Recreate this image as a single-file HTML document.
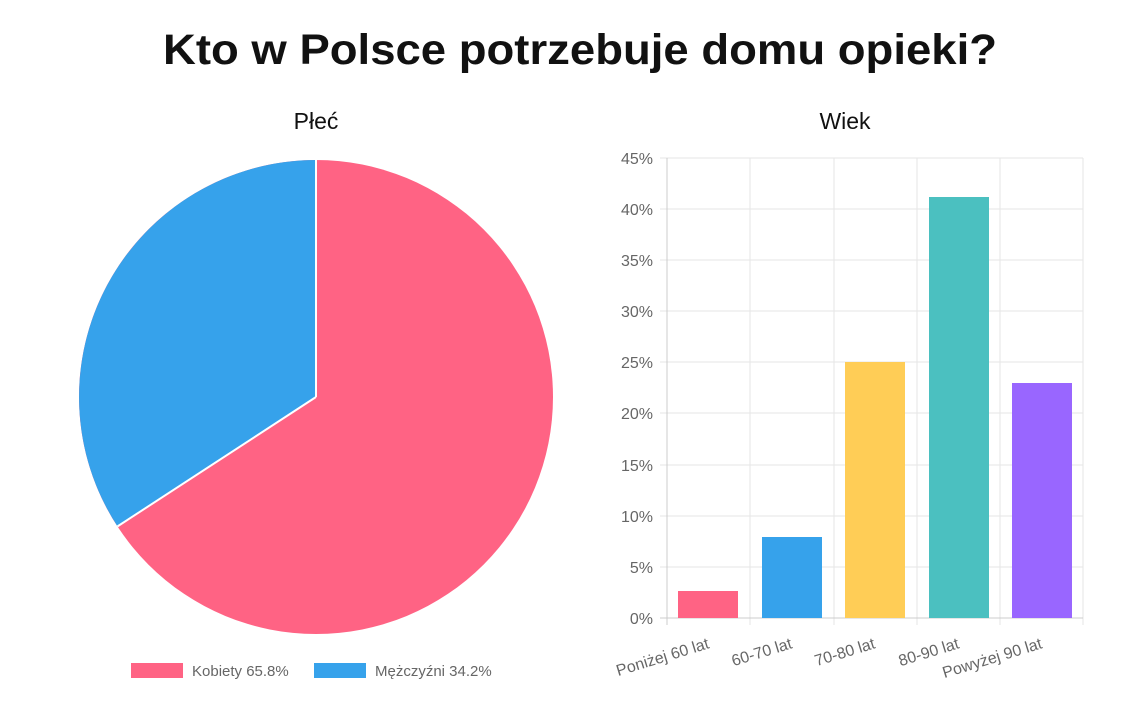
<!DOCTYPE html>
<html><head><meta charset="utf-8"><style>
body{margin:0;background:#fff;width:1131px;height:716px;overflow:hidden}
</style></head><body>
<svg width="1131" height="716" xmlns="http://www.w3.org/2000/svg" font-family="Liberation Sans, sans-serif">
<text x="580" y="64" text-anchor="middle" font-size="43" font-weight="bold" fill="#111" textLength="834" lengthAdjust="spacingAndGlyphs">Kto w Polsce potrzebuje domu opieki?</text>
<text x="316" y="129" text-anchor="middle" font-size="23" fill="#111">Płeć</text>
<text x="845" y="129" text-anchor="middle" font-size="23" fill="#111">Wiek</text>
<circle cx="316" cy="397" r="237" fill="#ff6384"/>
<path d="M316,397 L316,160 A237,237 0 0,0 117.5,526.4 Z" fill="#36a2eb"/>
<line x1="316" y1="397" x2="316" y2="160" stroke="#fff" stroke-width="2"/>
<line x1="316" y1="397" x2="117.5" y2="526.4" stroke="#fff" stroke-width="2"/>
<rect x="131" y="663" width="52" height="15" fill="#ff6384"/>
<text x="192" y="676" font-size="15" fill="#666">Kobiety 65.8%</text>
<rect x="314" y="663" width="52" height="15" fill="#36a2eb"/>
<text x="375" y="676" font-size="15" fill="#666">Mężczyźni 34.2%</text>
<g stroke="#e5e5e5" stroke-width="1">
<line x1="660" x2="1083" y1="158" y2="158"/><line x1="660" x2="1083" y1="209" y2="209"/>
<line x1="660" x2="1083" y1="260" y2="260"/><line x1="660" x2="1083" y1="311" y2="311"/>
<line x1="660" x2="1083" y1="362" y2="362"/><line x1="660" x2="1083" y1="413" y2="413"/>
<line x1="660" x2="1083" y1="465" y2="465"/><line x1="660" x2="1083" y1="516" y2="516"/>
<line x1="660" x2="1083" y1="567" y2="567"/>
<line x1="750" x2="750" y1="158" y2="625"/><line x1="834" x2="834" y1="158" y2="625"/>
<line x1="917" x2="917" y1="158" y2="625"/><line x1="1000" x2="1000" y1="158" y2="625"/>
<line x1="1083" x2="1083" y1="158" y2="625"/>
</g>
<line x1="667" x2="667" y1="158" y2="625" stroke="#ccc"/>
<line x1="660" x2="1083" y1="618" y2="618" stroke="#ccc"/>
<g font-size="16" fill="#666" text-anchor="end">
<text x="653" y="164">45%</text><text x="653" y="215">40%</text><text x="653" y="266">35%</text>
<text x="653" y="317">30%</text><text x="653" y="368">25%</text><text x="653" y="419">20%</text>
<text x="653" y="471">15%</text><text x="653" y="522">10%</text><text x="653" y="573">5%</text>
<text x="653" y="624">0%</text>
</g>
<rect x="678" y="591" width="60" height="27" fill="#ff6384"/>
<rect x="762" y="537" width="60" height="81" fill="#36a2eb"/>
<rect x="845" y="362" width="60" height="256" fill="#ffcd56"/>
<rect x="929" y="197" width="60" height="421" fill="#4bc0c0"/>
<rect x="1012" y="383" width="60" height="235" fill="#9966ff"/>
<g font-size="16" fill="#666" text-anchor="end">
<text transform="translate(710,648) rotate(-17)">Poniżej 60 lat</text>
<text transform="translate(793,648) rotate(-17)">60-70 lat</text>
<text transform="translate(876,648) rotate(-17)">70-80 lat</text>
<text transform="translate(960,648) rotate(-17)">80-90 lat</text>
<text transform="translate(1043,648) rotate(-17)">Powyżej 90 lat</text>
</g>
</svg>
</body></html>
